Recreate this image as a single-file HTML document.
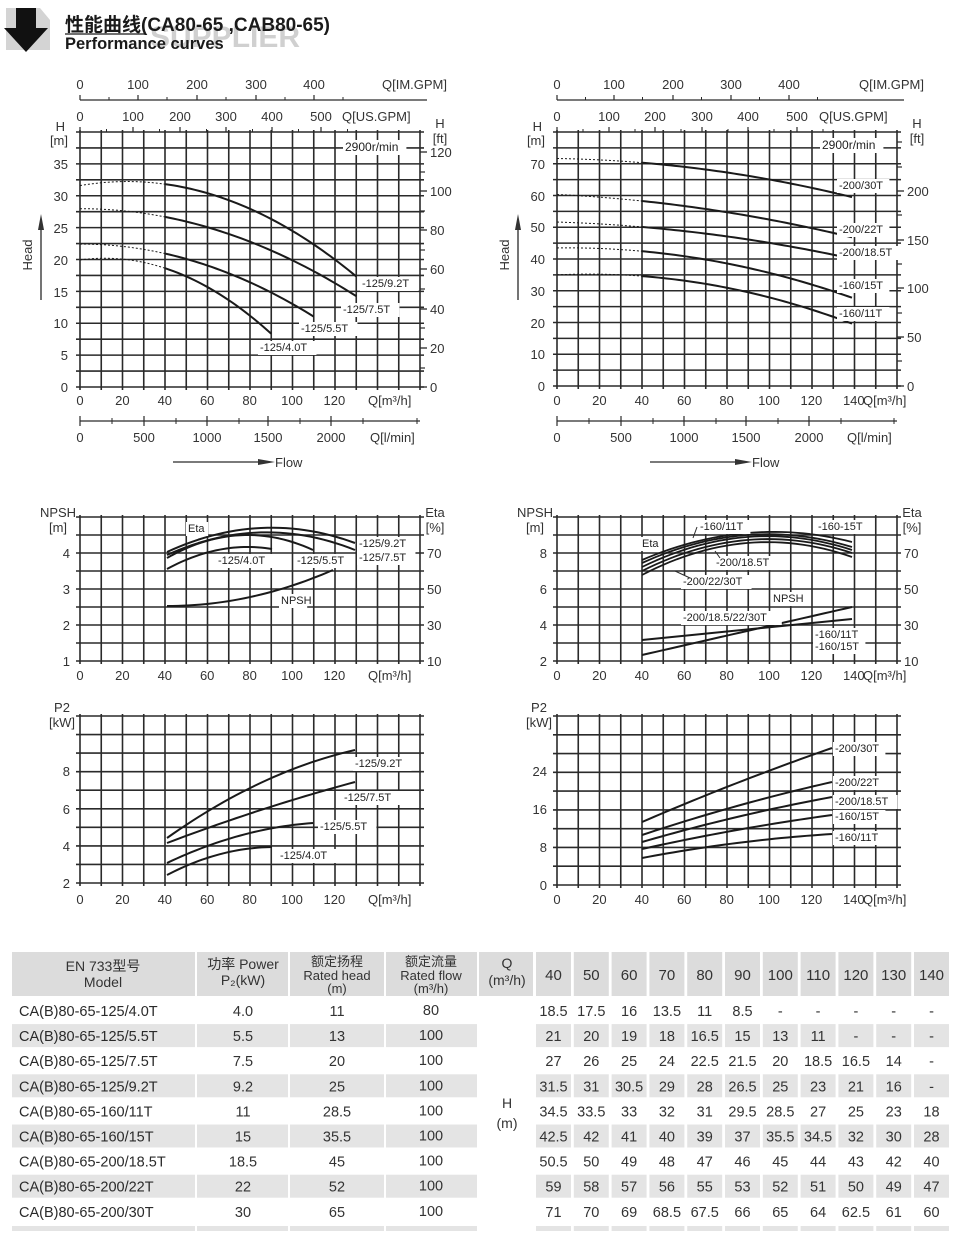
<!DOCTYPE html>
<html><head><meta charset="utf-8">
<style>
html,body{margin:0;padding:0;background:#fff;}
svg{display:block;font-family:"Liberation Sans","Noto Sans CJK SC",sans-serif;}
</style></head>
<body>
<svg id="s" width="967" height="1249" viewBox="0 0 967 1249" xmlns="http://www.w3.org/2000/svg">
<rect width="967" height="1249" fill="#fff"/>
<text x="150" y="47" font-size="30" fill="#d0d0d0" font-weight="bold">SUPPLIER</text>
<path d="M6 8 H40 L50 20 V50 H6 Z" fill="#d4d4d4"/>
<path d="M16 8 H36 V28 H48 L26 52 L4 28 H16 Z" fill="#111"/>
<text x="65" y="31" font-size="19" font-weight="bold" fill="#1a1a1a">性能曲线(CA80-65 ,CAB80-65)</text>
<line x1="65" y1="34" x2="146" y2="34" stroke="#1a1a1a" stroke-width="1.3"/>
<text x="65" y="49" font-size="16.5" font-weight="bold" fill="#1a1a1a">Performance curves</text>
<g id="g"></g>
</svg>
<script>
const NS="http://www.w3.org/2000/svg";
const G=document.getElementById('g');
function el(t,a,txt){const e=document.createElementNS(NS,t);for(const k in a)e.setAttribute(k,a[k]);if(txt!==undefined)e.textContent=txt;G.appendChild(e);return e;}
function line(x1,y1,x2,y2,w,c,d){const a={x1,y1,x2,y2,stroke:c||'#2a2a2a','stroke-width':w||1.5};if(d)a['stroke-dasharray']=d;return el('line',a);}
function txt(x,y,s,o){o=o||{};const a={x,y,'font-size':o.fs||13,fill:o.c||'#333','text-anchor':o.a||'start'};if(o.fw)a['font-weight']=o.fw;if(o.tr)a.transform=o.tr;return el('text',a,s);}
function lbl(x,y,s,fs){fs=fs||11;const w=s.length*fs*0.55+4;el('rect',{x:x-2,y:y-fs+1,width:w,height:fs+3,fill:'#fff'});txt(x,y,s,{fs:fs,c:'#222'});}
function grid(x0,y0,w,h,nc,nr){
  for(let i=0;i<=nc;i++){const x=x0+w*i/nc;line(x,y0-2,x,y0+h+3,1.6);}
  for(let j=0;j<=nr;j++){const y=y0+h*j/nr;line(x0-4,y,x0+w+4,y,1.6);}
}
function poly(pts,w,d){el('polyline',{points:pts.map(p=>p.join(',')).join(' '),fill:'none',stroke:'#1a1a1a','stroke-width':w||2,'stroke-dasharray':d||'none','stroke-linejoin':'round'});}
function quad3(p0,p1,p2,w){
  const pts=[];for(let i=0;i<=30;i++){const t=i/30;const x=p0[0]+(p2[0]-p0[0])*t;
   const L=(a,b,c)=>((x-b)*(x-c))/((a-b)*(a-c));
   const y=p0[1]*L(p0[0],p1[0],p2[0])+p1[1]*L(p1[0],p0[0],p2[0])+p2[1]*L(p2[0],p0[0],p1[0]);pts.push([x,y]);}
  poly(pts,w);
}
function fit(xs,ys){ // least squares quadratic
  let S=[0,0,0,0,0],T=[0,0,0];
  xs.forEach((x,i)=>{let p=1;for(let k=0;k<5;k++){S[k]+=p;if(k<3)T[k]+=p*ys[i];p*=x;}});
  const M=[[S[0],S[1],S[2],T[0]],[S[1],S[2],S[3],T[1]],[S[2],S[3],S[4],T[2]]];
  for(let i=0;i<3;i++){for(let j=i+1;j<3;j++){const f=M[j][i]/M[i][i];for(let k=i;k<4;k++)M[j][k]-=f*M[i][k];}}
  const c=[0,0,0];for(let i=2;i>=0;i--){let s=M[i][3];for(let k=i+1;k<3;k++)s-=M[i][k]*c[k];c[i]=s/M[i][i];}
  return x=>c[0]+c[1]*x+c[2]*x*x;
}
function topChart(o){
  const x0=o.x0,w=340,y0=132,h=o.yb-132;
  grid(x0,y0,w,h,16,16);
  line(x0,100,x0+347,100,1.3);
  o.im.forEach((x,i)=>{line(x,95,x,100,1.2);txt(x,89,String(i*100),{a:'middle'});});
  for(let i=0;i<o.im.length;i++){const x=o.im[i]+(o.im[1]-o.im[0])/2;line(x,97,x,100,1);}
  txt(x0+302,89,'Q[IM.GPM]');
  o.us.forEach((x,i)=>{line(x,127,x,132,1.2);txt(x,121,String(i*100),{a:'middle'});});
  for(let i=0;i<o.us.length;i++){const x=o.us[i]+(o.us[1]-o.us[0])/2;line(x,129,x,132,1);}
  txt(x0+262,121,'Q[US.GPM]');
  for(let i=0;i<=o.qmax;i+=20)txt(x0+i*2.12,405,String(i),{a:'middle'});
  txt(x0+o.qlx,405,'Q[m³/h]');
  line(x0,421,x0+340,421,1.3);
  o.lm.forEach((x,i)=>{line(x,416,x,426,1.2);txt(x,442,String(i*500),{a:'middle'});});
  for(let i=0;i<o.lm.length;i++){const x=o.lm[i]+(o.lm[1]-o.lm[0])/2;line(x,418,x,424,1);}
  line(x0+337,418,x0+337,424,1);
  txt(x0+290,442,'Q[l/min]');
  line(x0+93,462,x0+180,462,1.3);el('path',{d:`M${x0+195} 462 L${x0+178} 459 L${x0+178} 465Z`,fill:'#333'});
  txt(x0+195,467,'Flow');
  txt(x0-48,255,'Head',{tr:`rotate(-90 ${x0-48} 255)`,a:'middle'});
  line(x0-39,300,x0-39,222,1.3);el('path',{d:`M${x0-39} 214 L${x0-42} 230 L${x0-36} 230Z`,fill:'#333'});
  txt(x0-15,131,'H',{a:'end'});txt(x0-12,145,'[m]',{a:'end'});
  o.yl.forEach(([v,y])=>txt(x0-12,y+5,v,{a:'end'}));
  txt(x0+360,128,'H',{a:'middle'});txt(x0+360,143,'[ft]',{a:'middle'});
  o.ft.forEach(([v,y])=>{line(x0+340,y,x0+347,y,1.3);txt(x0+350,y+5,v);});
  o.ftm.forEach(y=>line(x0+340,y,x0+345,y,1.2));
  lbl(x0+265,o.rpmY,'2900r/min',12);
}
topChart({x0:80,yb:387,qmax:120,qlx:288,
 im:[80,138,197,256,314],us:[80,133,180,226,272,321],lm:[80,144,207,268,331],
 yl:[['35',164],['30',196],['25',228],['20',260],['15',292],['10',323],['5',355],['0',387]],
 ft:[['120',152],['100',191],['80',230],['60',269],['40',309],['20',348],['0',387]],
 ftm:[172,211,250,289,328,368],rpmY:151});
topChart({x0:557,yb:386,qmax:140,qlx:306,
 im:[557,614,673,731,789],us:[557,609,655,702,748,797],lm:[557,621,684,746,809],
 yl:[['70',164],['60',196],['50',227],['40',259],['30',291],['20',323],['10',354],['0',386]],
 ft:[['200',191],['150',240],['100',288],['50',337],['0',386]],
 ftm:[142,167,215,264,313,361],rpmY:149});
function hcurve(x0,yb,sx,sy,h0,vals){
  const xs=[0],ys=[h0];vals.forEach((v,i)=>{xs.push(40+i*10);ys.push(v);});
  const f=fit(xs,ys);
  const qe=40+(vals.length-1)*10;
  const d=[],s=[];
  for(let q=0;q<=40;q+=2)d.push([x0+q*sx,yb-f(q)*sy]);
  for(let q=40;q<=qe;q+=2)s.push([x0+q*sx,yb-f(q)*sy]);
  poly(d,1,'2,2');poly(s,2);
}
const LX=2.125,LY=6.36;
hcurve(80,387,LX,LY,20,[18.5,17.5,16,13.5,11,8.5]);
hcurve(80,387,LX,LY,22.5,[21,20,19,18,16.5,15,13,11]);
hcurve(80,387,LX,LY,28,[27,26,25,24,22.5,21.5,20,18.5,16.5,14]);
hcurve(80,387,LX,LY,32,[31.5,31,30.5,29,28,26.5,25,23,21,16]);
lbl(362,287,'-125/9.2T');lbl(343,313,'-125/7.5T');lbl(301,332,'-125/5.5T');lbl(260,351,'-125/4.0T');
const RX=2.107,RY=3.17;
hcurve(557,386,RX,RY,35.5,[34.5,33.5,33,32,31,29.5,28.5,27,25,23,18]);
hcurve(557,386,RX,RY,43.5,[42.5,42,41,40,39,37,35.5,34.5,32,30,28]);
hcurve(557,386,RX,RY,51.5,[50.5,50,49,48,47,46,45,44,43,42,40]);
hcurve(557,386,RX,RY,60,[59,58,57,56,55,53,52,51,50,49,47]);
hcurve(557,386,RX,RY,71.5,[71,70,69,68.5,67.5,66,65,64,62.5,61,60]);
lbl(839,189,'-200/30T');lbl(839,233,'-200/22T');lbl(839,256,'-200/18.5T');lbl(839,289,'-160/15T');lbl(839,317,'-160/11T');
function npsh(x0,qmax,ql,yl){
  grid(x0,517,340,144,16,8);
  for(let i=0;i<=qmax;i+=20)txt(x0+i*2.12,680,String(i),{a:'middle'});
  txt(x0+ql,680,'Q[m³/h]');
  txt(x0-22,517,'NPSH',{a:'middle'});txt(x0-22,532,'[m]',{a:'middle'});
  yl.forEach(([v,y])=>txt(x0-10,y+5,v,{a:'end'}));
  txt(x0+355,517,'Eta',{a:'middle'});txt(x0+355,532,'[%]',{a:'middle'});
  [['70',553],['50',589],['30',625],['10',661]].forEach(([v,y])=>txt(x0+347,y+5,v));
}
npsh(80,120,288,[['4',553],['3',589],['2',625],['1',661]]);
npsh(557,140,306,[['8',553],['6',589],['4',625],['2',661]]);
quad3([167,552],[260,528],[355,543]);
quad3([167,555],[250,533],[355,550]);
quad3([167,558],[250,535],[313,550]);
quad3([167,569],[247,547],[272,549]);
quad3([167,606],[267,593],[333,570]);
lbl(188,532,'Eta');lbl(218,564,'-125/4.0T');lbl(297,564,'-125/5.5T');lbl(359,547,'-125/9.2T');lbl(359,561,'-125/7.5T');lbl(281,604,'NPSH');
[[560,533,542],[563,535,547],[567,537,550],[571,540,553],[575,543,557]].forEach(([a,b,c])=>quad3([642,a],[747,b],[852,c],1.8));
poly([[642,640],[852,619]],2);quad3([642,655],[747,631],[852,607],2);
lbl(700,530,'-160/11T');lbl(818,530,'-160-15T');lbl(642,547,'Eta');lbl(716,566,'-200/18.5T');lbl(683,585,'-200/22/30T');
lbl(773,602,'NPSH');lbl(683,621,'-200/18.5/22/30T');lbl(815,638,'-160/11T');lbl(815,650,'-160/15T');
line(697,527,693,538,1);line(715,551,720,558,1);line(675,571,690,578,1);
function p2(x0,yb,qmax,ql,yl){
  grid(x0,716,340,yb-716,16,9);
  for(let i=0;i<=qmax;i+=20)txt(x0+i*2.12,904,String(i),{a:'middle'});
  txt(x0+ql,904,'Q[m³/h]');
  txt(x0-18,712,'P2',{a:'middle'});txt(x0-18,727,'[kW]',{a:'middle'});
  yl.forEach(([v,y])=>txt(x0-10,y+5,v,{a:'end'}));
}
p2(80,883,120,288,[['8',771],['6',809],['4',846],['2',883]]);
p2(557,885,140,306,[['24',771],['16',809],['8',847],['0',885]]);
quad3([167,838],[267,780],[355,750]);
quad3([167,843],[267,808],[355,782]);
quad3([167,863],[250,833],[313,823]);
quad3([167,875],[217,855],[272,847]);
lbl(355,767,'-125/9.2T');lbl(344,801,'-125/7.5T');lbl(320,830,'-125/5.5T');lbl(280,859,'-125/4.0T');
quad3([642,822],[737,783],[832,748]);
quad3([642,835],[737,806],[832,782]);
quad3([642,842],[737,817],[832,797]);
quad3([642,849],[737,830],[832,815]);
quad3([642,858],[737,843],[832,834]);
lbl(835,752,'-200/30T');lbl(835,786,'-200/22T');lbl(835,805,'-200/18.5T');lbl(835,820,'-160/15T');lbl(835,841,'-160/11T');
const cols=[[12,195],[197,288],[290,384],[386,477]];
const vcols=[];for(let i=0;i<11;i++){const a=536+i*37.8;vcols.push([a,a+35]);}
const hd='#dcdcdc',sh='#e4e4e4';
cols.forEach(([a,b])=>el('rect',{x:a,y:952,width:b-a,height:44,fill:hd}));
el('rect',{x:479,y:952,width:54,height:44,fill:hd});
vcols.forEach(([a,b])=>el('rect',{x:a,y:952,width:b-a,height:44,fill:hd}));
txt(103,971,'EN 733型号',{a:'middle',fs:14});txt(103,987,'Model',{a:'middle',fs:14});
txt(243,969,'功率 Power',{a:'middle',fs:14});txt(243,985,'P₂(kW)',{a:'middle',fs:14});
txt(337,966,'额定扬程',{a:'middle',fs:13});txt(337,980,'Rated head',{a:'middle',fs:13});txt(337,993,'(m)',{a:'middle',fs:13});
txt(431,966,'额定流量',{a:'middle',fs:13});txt(431,980,'Rated flow',{a:'middle',fs:13});txt(431,993,'(m³/h)',{a:'middle',fs:13});
txt(507,968,'Q',{a:'middle',fs:14});txt(507,985,'(m³/h)',{a:'middle',fs:14});
[40,50,60,70,80,90,100,110,120,130,140].forEach((q,i)=>txt((vcols[i][0]+vcols[i][1])/2,980,String(q),{a:'middle',fs:15}));
const rows=[
['CA(B)80-65-125/4.0T','4.0','11','80',['18.5','17.5','16','13.5','11','8.5','-','-','-','-','-']],
['CA(B)80-65-125/5.5T','5.5','13','100',['21','20','19','18','16.5','15','13','11','-','-','-']],
['CA(B)80-65-125/7.5T','7.5','20','100',['27','26','25','24','22.5','21.5','20','18.5','16.5','14','-']],
['CA(B)80-65-125/9.2T','9.2','25','100',['31.5','31','30.5','29','28','26.5','25','23','21','16','-']],
['CA(B)80-65-160/11T','11','28.5','100',['34.5','33.5','33','32','31','29.5','28.5','27','25','23','18']],
['CA(B)80-65-160/15T','15','35.5','100',['42.5','42','41','40','39','37','35.5','34.5','32','30','28']],
['CA(B)80-65-200/18.5T','18.5','45','100',['50.5','50','49','48','47','46','45','44','43','42','40']],
['CA(B)80-65-200/22T','22','52','100',['59','58','57','56','55','53','52','51','50','49','47']],
['CA(B)80-65-200/30T','30','65','100',['71','70','69','68.5','67.5','66','65','64','62.5','61','60']]];
rows.forEach((r,i)=>{const yc=1011+i*25.1;
 if(i%2==1){cols.forEach(([a,b])=>el('rect',{x:a,y:yc-12,width:b-a,height:23,fill:sh}));vcols.forEach(([a,b])=>el('rect',{x:a,y:yc-12,width:b-a,height:23,fill:sh}));}
 txt(19,yc+5,r[0],{fs:14.5,c:'#2a2a2a'});
 txt(243,yc+5,r[1],{a:'middle',fs:14.5});txt(337,yc+5,r[2],{a:'middle',fs:14.5});txt(431,yc+4,r[3],{a:'middle',fs:14.5});
 r[4].forEach((v,k)=>txt((vcols[k][0]+vcols[k][1])/2,yc+5,v,{a:'middle',fs:14.5}));
});
cols.forEach(([a,b])=>el('rect',{x:a,y:1226,width:b-a,height:5,fill:sh}));
vcols.forEach(([a,b])=>el('rect',{x:a,y:1226,width:b-a,height:5,fill:sh}));
txt(507,1108,'H',{a:'middle',fs:14});txt(507,1128,'(m)',{a:'middle',fs:14});
</script>
</body></html>
